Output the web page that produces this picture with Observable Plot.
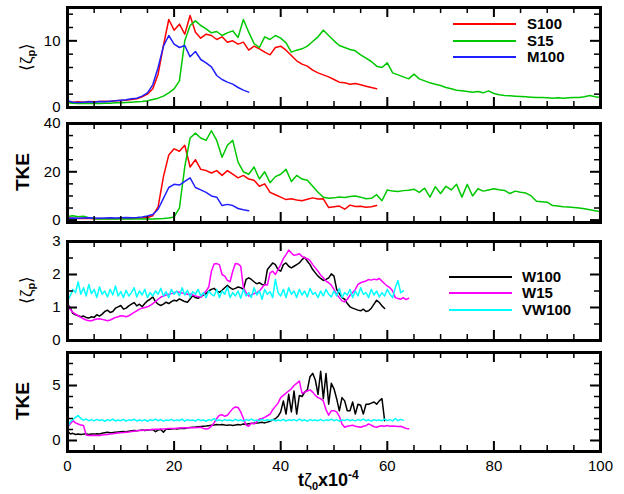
<!DOCTYPE html>
<html><head><meta charset="utf-8">
<script src="https://cdn.jsdelivr.net/npm/d3@7"></script>
<script src="https://cdn.jsdelivr.net/npm/@observablehq/plot@0.6"></script>
<style>
body{margin:0;background:#fff;font-family:"Liberation Sans",Arial,sans-serif;}
#wrap{position:relative;width:624px;height:494px;overflow:hidden;}
#wrap svg{position:absolute;left:0;overflow:visible;}
.ylab{position:absolute;transform:translate(-50%,-50%) rotate(-90deg);white-space:nowrap;color:#000;}
.leg-line{position:absolute;height:0;border-top:2px solid;width:63px;}
.leg-text{position:absolute;font-weight:bold;font-size:15px;line-height:16px;}
.xlab{position:absolute;font-weight:bold;font-size:18px;white-space:nowrap;}
</style>
</head><body>
<div id="wrap"></div>
<script>
// ---------------- data ----------------
// time grid of the S-runs: one sample per unit of t*zeta0 x 1e-4
const S_T0 = 0, S_DT = 1;
// time grid of the W-runs: one sample per 0.5 unit
const W_T0 = 0, W_DT = 0.5;

const S100_zeta = [0.9,0.8,0.85,0.8,0.9,0.85,0.9,0.95,0.9,1.0,
 1.05,1.1,1.2,1.3,1.6,2.0,2.8,5.0,9.3,13.2,
 11.6,12.5,11.0,13.8,11.3,10.4,11.0,10.8,10.2,10.6,
 9.8,10.0,9.5,9.8,8.6,9.2,8.8,8.3,7.9,9.0,
 9.2,8.6,7.8,7.0,6.5,6.2,5.6,5.2,4.9,4.6,
 4.2,3.8,3.7,3.5,3.6,3.4,3.2,3.0,2.8];
const S15_zeta = [0.7,0.65,0.6,0.6,0.6,0.62,0.6,0.65,0.65,0.7,
 0.7,0.75,0.8,0.85,0.9,1.0,1.2,1.4,1.7,2.2,
 2.8,4.0,10.0,12.3,13.0,12.3,11.8,11.2,11.4,10.8,
 11.2,11.5,10.5,13.2,11.3,9.6,9.0,10.6,10.2,10.8,
 10.4,9.7,8.3,8.6,8.8,9.2,9.9,10.6,11.6,10.8,
 10.0,9.3,9.0,8.7,8.5,7.9,7.4,6.9,6.2,6.0,
 6.7,5.2,4.9,4.6,4.3,5.0,4.3,4.0,3.7,3.5,
 3.3,3.0,2.8,2.6,2.5,2.4,2.3,2.4,2.2,2.5,
 2.1,1.9,1.8,1.75,1.7,1.65,1.6,1.55,1.5,1.5,
 1.45,1.4,1.45,1.4,1.45,1.5,1.5,1.6,1.8,1.6,1.5];
const M100_zeta = [1.0,0.8,0.75,0.8,0.85,0.8,0.9,0.85,0.95,1.0,
 1.1,1.15,1.3,1.4,1.7,2.2,3.4,6.0,9.2,10.8,
 9.5,9.0,9.3,7.6,8.4,7.2,6.7,6.1,4.8,4.2,
 3.8,3.5,3.0,2.6,2.3];

const S100_tke = [1.0,0.8,0.7,0.8,0.7,0.6,0.7,0.6,0.7,0.6,
 0.7,0.8,0.7,0.8,0.9,1.1,1.8,5.5,18,27,
 29.5,28.5,31,22,25,21,20.5,19.5,20.5,18.5,
 20.5,19,17.5,18.5,17,16.5,14,15,11.5,10.5,
 9.5,8.5,8.8,8.3,8.0,8.6,9.2,8.7,8.8,5.2,
 5.5,5.8,4.5,6.2,5.6,5.7,5.3,5.5,6.0];
const S15_tke = [1.5,1.8,1.4,1.6,1.0,0.6,0.5,0.5,0.5,0.5,
 0.5,0.5,0.5,0.5,0.5,0.5,0.5,0.6,0.7,0.9,
 1.3,5,22,34,36,34,33,37,33,26,
 31,33,24,20,19,22,17,20,15.5,18,
 19,21,16,18.5,17,16.5,14,11.5,9.5,9,
 9.2,9.6,9.4,9.8,10,9.5,8.8,9,10.5,8,
 12.5,12,11.8,12.2,12.4,12.8,11.5,13.2,9.5,13.8,
 11,14,12.5,14.8,9.5,14.8,10,13,12,12.5,
 13,12.6,12.3,11,12,11.5,11.2,10,7.8,7.6,
 7.4,6,5.8,5.5,5.4,5.2,5.0,4.7,4.3,3.9,3.5];
const M100_tke = [0.8,0.9,0.8,0.9,1.0,0.9,0.8,0.9,1.0,0.9,
 1.0,1.1,1.0,1.1,1.3,1.7,2.3,4.5,9,13.5,
 14.8,14.5,16,17.5,13.5,12.5,11.5,10,9.5,6,
 6.5,6,4.8,4.3,3.9];

const W100_zeta = [1.1,1.0,0.82,0.78,0.75,0.72,0.74,0.7,0.68,0.72,
 0.7,0.78,0.74,0.8,0.88,0.92,0.85,0.88,0.98,1.02,
 1.06,0.95,0.98,1.05,1.1,1.15,1.05,1.1,1.02,1.12,
 1.2,1.25,1.32,1.18,1.1,1.06,1.1,1.16,1.12,1.18,
 1.22,1.2,1.26,1.22,1.18,1.16,1.26,1.36,1.3,1.28,
 1.32,1.38,1.42,1.5,1.55,1.58,1.5,1.46,1.52,1.6,
 1.67,1.6,1.55,1.58,1.62,1.6,1.55,1.85,1.9,1.85,
 1.78,1.72,1.75,1.7,1.68,2.15,2.25,2.35,2.3,2.15,
 2.1,2.3,2.35,2.25,2.2,2.25,2.3,2.35,2.45,2.52,
 2.4,2.3,2.15,2.05,1.95,1.88,1.82,1.85,1.9,2.02,
 1.95,1.55,1.42,1.3,1.25,1.12,1.02,0.98,0.95,0.92,
 0.9,0.95,0.88,0.9,0.98,1.1,1.22,1.15,1.05,0.97];
const W15_zeta = [1.13,0.95,0.85,0.8,0.75,0.7,0.66,0.62,0.6,0.6,
 0.63,0.65,0.66,0.64,0.62,0.6,0.62,0.66,0.7,0.72,
 0.75,0.74,0.72,0.75,0.8,0.85,0.9,0.95,0.98,1.0,
 1.02,1.06,1.12,1.18,1.25,1.31,1.35,1.38,1.4,1.42,
 1.45,1.48,1.46,1.44,1.42,1.4,1.41,1.38,1.35,1.33,
 1.31,1.4,1.5,1.62,2.1,2.32,2.33,2.3,2.0,1.95,
 1.82,1.78,2.1,2.33,2.32,2.25,1.6,1.45,1.35,1.38,
 1.42,1.45,1.5,1.6,1.7,1.68,2.05,2.1,2.0,2.15,
 2.3,2.48,2.6,2.74,2.65,2.58,2.6,2.63,2.55,2.5,
 2.48,2.42,2.3,2.2,2.1,1.98,1.9,1.8,1.75,1.68,
 1.55,1.4,1.3,1.2,1.17,1.25,1.37,1.45,1.55,1.7,
 1.75,1.78,1.8,1.85,1.83,1.86,1.84,1.88,1.8,1.72,
 1.65,1.6,1.5,1.3,1.27,1.25,1.3,1.24,1.28];
const VW100_zeta = [1.2,1.35,1.55,1.45,1.78,1.4,1.6,1.35,1.7,1.42,
 1.55,1.3,1.62,1.4,1.5,1.32,1.55,1.38,1.65,1.35,
 1.48,1.3,1.52,1.35,1.45,1.6,1.32,1.5,1.38,1.55,
 1.3,1.45,1.35,1.5,1.4,1.58,1.35,1.48,1.3,1.55,
 1.4,1.5,1.35,1.6,1.38,1.52,1.32,1.48,1.4,1.55,
 1.35,1.45,1.3,1.5,1.4,1.35,1.55,1.3,1.5,1.4,
 1.62,1.3,1.45,1.35,1.5,1.28,1.55,1.35,1.45,1.3,
 1.6,1.38,1.5,1.25,1.55,1.4,1.48,1.3,1.85,1.45,
 1.35,1.55,1.3,1.6,1.4,1.5,1.3,1.55,1.38,1.5,
 1.32,1.58,1.4,1.45,1.3,1.5,1.35,1.55,1.4,1.32,
 1.5,1.35,1.58,1.3,1.45,1.38,1.55,1.3,1.5,1.35,
 1.6,1.4,1.45,1.3,1.55,1.38,1.5,1.32,1.45,1.35,
 1.55,1.4,1.3,1.6,1.82,1.45,1.5];

const W100_tke = [0.9,0.6,0.65,0.55,0.6,0.55,0.58,0.6,0.55,0.6,
 0.58,0.62,0.6,0.65,0.7,0.75,0.7,0.72,0.75,0.78,
 0.8,0.82,0.8,0.85,0.88,0.9,0.88,0.92,0.95,0.9,
 0.95,0.98,1.0,0.8,0.95,1.0,0.75,1.05,1.02,1.05,
 1.08,1.05,1.1,1.12,1.1,1.15,1.18,1.2,1.22,1.25,
 1.28,1.3,1.32,1.35,1.38,1.4,1.45,1.42,1.45,1.4,
 1.38,1.42,1.36,1.4,1.45,1.42,1.5,1.48,1.52,1.55,
 1.58,1.6,1.62,1.65,1.6,1.67,1.75,1.9,1.97,2.2,
 2.6,3.6,2.4,4.2,2.6,4.5,2.4,4.1,4.0,4.4,
 4.6,5.8,6.1,5.5,4.2,6.3,3.8,6.1,3.3,5.2,
 4.7,3.8,2.7,3.9,3.6,2.7,2.7,3.5,2.4,3.3,
 3.2,2.4,3.3,3.3,3.4,3.5,3.3,3.6,3.8,1.8];
const W15_tke = [1.2,1.5,1.8,1.6,1.5,1.4,1.36,0.5,0.45,0.45,
 0.48,0.45,0.45,0.5,0.52,0.55,0.6,0.62,0.65,0.68,
 0.7,0.72,0.75,0.78,0.82,0.85,0.88,0.9,0.92,0.95,
 0.96,0.98,1.0,1.02,1.02,1.04,1.05,1.06,1.08,1.1,
 1.1,1.12,1.13,1.14,1.15,1.15,1.16,1.17,1.15,1.18,
 1.2,1.1,1.05,1.1,1.3,1.6,2.0,2.3,2.35,2.2,
 2.3,2.6,2.9,3.05,3.0,2.6,2.0,1.4,1.3,1.6,
 1.5,1.7,1.95,2.0,2.1,2.25,2.4,2.8,3.1,3.4,
 3.9,4.1,4.3,4.5,4.7,5.0,5.2,5.4,4.3,4.4,
 4.5,4.6,4.4,4.1,3.9,3.8,3.6,2.8,2.3,2.7,
 2.7,2.6,2.2,1.5,1.2,1.3,1.35,1.38,1.3,1.25,
 1.2,1.3,1.35,1.5,1.4,1.25,1.2,1.3,1.35,1.3,
 1.36,1.3,1.32,1.3,1.28,1.3,1.2,1.1,1.06];
const VW100_tke = [1.2,1.7,1.9,2.1,2.27,2.0,1.85,1.95,1.8,1.9,
 1.78,1.92,1.82,1.88,1.75,1.9,1.8,1.95,1.78,1.86,
 1.8,1.92,1.76,1.88,1.82,1.95,1.78,1.86,1.8,1.9,
 1.75,1.88,1.82,1.95,1.8,1.9,1.76,1.86,1.82,1.92,
 1.78,1.88,1.8,1.95,1.76,1.9,1.82,1.86,1.78,1.92,
 1.8,1.88,1.75,1.9,1.82,2.0,1.8,1.88,1.78,1.9,
 1.82,1.86,1.78,1.92,1.8,1.88,1.76,1.9,1.82,1.95,
 1.8,1.86,1.78,1.92,1.8,1.88,1.82,1.9,1.78,1.86,
 1.8,1.92,1.76,1.88,1.82,1.9,1.78,1.95,1.8,1.88,
 1.76,1.9,1.82,1.86,1.8,1.92,1.78,1.88,1.82,1.95,
 1.8,1.9,1.76,1.86,1.82,1.92,1.8,1.88,1.78,1.9,
 1.82,1.95,1.8,1.88,1.76,1.9,1.82,1.86,1.8,1.95,
 1.82,1.9,1.78,2.0,1.8,1.92,1.85];

// ticks
const xMajor = [0, 20, 40, 60, 80, 100];
const xMinor = [5, 10, 15, 25, 30, 35, 45, 50, 55, 65, 70, 75, 85, 90, 95];
const p1Major = [0, 10], p1Minor = [2, 4, 6, 8, 12, 14];
const p2Major = [0, 20, 40], p2Minor = [5, 10, 15, 25, 30, 35];
const p3Major = [0, 1, 2, 3], p3Minor = [0.5, 1.5, 2.5];
const p4Major = [0, 5], p4Minor = [1, 2, 3, 4, 6, 7];

// series names and colours
const topNames = ["S100", "S15", "M100"];
const topColors = ["#ff0000", "#00c800", "#2020ff"];
const botNames = ["W100", "W15", "VW100"];
const botColors = ["#000000", "#ff00ff", "#00ffff"];

// ---------------- drawing ----------------
const toRows = (vals, t0, dt) => vals.map((y, i) => ({t: t0 + i * dt, y}));
const W = 624, ML = 67, MR = 24, IW = W - ML - MR;
const MAJ = 10, MIN = 6;

// inward ticks on all four sides, as tick marks inset to a short length
function tickMarks(major, minor, ih) {
  const id = d => d;
  return [
    Plot.tickY(major, {y: id, insetRight: IW - MAJ, stroke: "#000", strokeWidth: 2}),
    Plot.tickY(minor, {y: id, insetRight: IW - MIN, stroke: "#000", strokeWidth: 1.5}),
    Plot.tickY(major, {y: id, insetLeft: IW - MAJ, stroke: "#000", strokeWidth: 2}),
    Plot.tickY(minor, {y: id, insetLeft: IW - MIN, stroke: "#000", strokeWidth: 1.5}),
    Plot.tickX(xMajor, {x: id, insetBottom: ih - MAJ, stroke: "#000", strokeWidth: 2}),
    Plot.tickX(xMinor, {x: id, insetBottom: ih - MIN, stroke: "#000", strokeWidth: 1.5}),
    Plot.tickX(xMajor, {x: id, insetTop: ih - MAJ, stroke: "#000", strokeWidth: 2}),
    Plot.tickX(xMinor, {x: id, insetTop: ih - MIN, stroke: "#000", strokeWidth: 1.5})
  ];
}

function panel({top, height, mt, mb, ydomain, major, minor, lines, xlabels}) {
  const ih = height - mt - mb;
  const marks = [
    ...lines.map(([vals, t0, dt, color]) =>
      Plot.line(toRows(vals, t0, dt), {x: "t", y: "y", stroke: color, strokeWidth: 1.5, strokeLinejoin: "round"})),
    ...tickMarks(major, minor, ih),
    Plot.axisY({anchor: "left", ticks: major, tickSize: 0, tickPadding: 7, label: null, tickFormat: d => String(d)}),
    xlabels
      ? Plot.axisX({anchor: "bottom", ticks: xMajor, tickSize: 0, tickPadding: 9, label: null, tickFormat: d => String(d)})
      : Plot.axisX({anchor: "bottom", ticks: [], label: null}),
    Plot.frame({stroke: "#000", strokeWidth: 3})
  ];
  const svg = Plot.plot({
    width: W, height,
    marginLeft: ML, marginRight: MR, marginTop: mt, marginBottom: mb,
    x: {domain: [0, 100]},
    y: {domain: ydomain},
    style: {fontFamily: "'Liberation Sans', Arial, sans-serif", fontSize: "15px", background: "transparent", overflow: "visible", color: "#000"},
    marks
  });
  svg.style.top = top + "px";
  document.getElementById("wrap").appendChild(svg);
}

panel({top: 0, height: 115, mt: 7, mb: 8, ydomain: [0, 15], major: p1Major, minor: p1Minor,
  lines: [[S100_zeta, S_T0, S_DT, topColors[0]], [S15_zeta, S_T0, S_DT, topColors[1]], [M100_zeta, S_T0, S_DT, topColors[2]]]});
panel({top: 115, height: 117, mt: 8, mb: 10, ydomain: [-1, 40], major: p2Major, minor: p2Minor,
  lines: [[S100_tke, S_T0, S_DT, topColors[0]], [S15_tke, S_T0, S_DT, topColors[1]], [M100_tke, S_T0, S_DT, topColors[2]]]});
panel({top: 232, height: 114, mt: 9, mb: 6, ydomain: [0, 3], major: p3Major, minor: p3Minor,
  lines: [[W100_zeta, W_T0, W_DT, botColors[0]], [W15_zeta, W_T0, W_DT, botColors[1]], [VW100_zeta, W_T0, W_DT, botColors[2]]]});
panel({top: 346, height: 148, mt: 6, mb: 43, ydomain: [-1, 8], major: p4Major, minor: p4Minor, xlabels: true,
  lines: [[W100_tke, W_T0, W_DT, botColors[0]], [W15_tke, W_T0, W_DT, botColors[1]], [VW100_tke, W_T0, W_DT, botColors[2]]]});

// labels and legends (HTML text)
const wrap = document.getElementById("wrap");
function add(html, cls, style) {
  const d = document.createElement("div");
  d.className = cls; d.innerHTML = html; Object.assign(d.style, style);
  wrap.appendChild(d);
}
const zetaLab = '⟨ζ<sub style="font-size:11px;font-weight:bold;vertical-align:-3px">p</sub>⟩';
add(zetaLab, "ylab", {left: "26px", top: "57px", fontSize: "17px"});
add("TKE", "ylab", {left: "23px", top: "172px", fontSize: "19px", fontWeight: "bold"});
add(zetaLab, "ylab", {left: "26px", top: "290px", fontSize: "17px"});
add("TKE", "ylab", {left: "23px", top: "401px", fontSize: "19px", fontWeight: "bold"});
add('t<span style="font-weight:normal">ζ</span><sub style="font-size:11px;vertical-align:-4px">0</sub>x10<sup style="font-size:12px;vertical-align:7px">-4</sup>',
  "xlab", {left: "298px", top: "468px"});

const legTop = [24, 41, 57], legBot = [277, 293, 310];
topNames.forEach((n, i) => {
  add("", "leg-line", {left: "453px", top: (legTop[i] - 1) + "px", borderColor: topColors[i]});
  add(n, "leg-text", {left: "527px", top: (legTop[i] - 8) + "px"});
});
botNames.forEach((n, i) => {
  add("", "leg-line", {left: "449px", top: (legBot[i] - 1) + "px", borderColor: botColors[i]});
  add(n, "leg-text", {left: "522px", top: (legBot[i] - 8) + "px"});
});
</script>
</body></html>
